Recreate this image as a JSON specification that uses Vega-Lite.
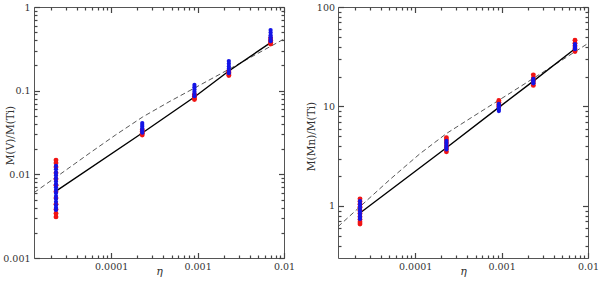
{
  "$schema": "https://vega.github.io/schema/vega-lite/v6.json",
  "padding": {"left": 2, "top": 1, "right": 0, "bottom": 0},
  "bounds": "flush",
  "spacing": 54,
  "config": {
    "view": {"stroke": "#555", "strokeWidth": 1},
    "axis": {
      "grid": false, "domain": false, "tickColor": "#444", "tickWidth": 1.2, "ticks": true,
      "labelFont": "DejaVu Serif", "labelFontSize": 9.5, "labelColor": "#333",
      "titleFont": "DejaVu Serif", "titleFontWeight": "normal", "titleColor": "#333", "titleFontSize": 10.5,
      "labelFlush": false, "labelOverlap": false, "labelBound": false
    }
  },
  "datasets": {
    "ptsV": [
      {"eta": 2.3e-5, "ratio": 0.0031, "set": "red"}, {"eta": 2.3e-5, "ratio": 0.0034, "set": "red"}, {"eta": 2.3e-5, "ratio": 0.0038, "set": "red"}, {"eta": 2.3e-5, "ratio": 0.0044, "set": "red"}, {"eta": 2.3e-5, "ratio": 0.0052, "set": "red"}, {"eta": 2.3e-5, "ratio": 0.0062, "set": "red"}, {"eta": 2.3e-5, "ratio": 0.0074, "set": "red"}, {"eta": 2.3e-5, "ratio": 0.0088, "set": "red"}, {"eta": 2.3e-5, "ratio": 0.0104, "set": "red"}, {"eta": 2.3e-5, "ratio": 0.0122, "set": "red"}, {"eta": 2.3e-5, "ratio": 0.0137, "set": "red"}, {"eta": 2.3e-5, "ratio": 0.0148, "set": "red"},
      {"eta": 2.29e-4, "ratio": 0.0295, "set": "red"}, {"eta": 2.29e-4, "ratio": 0.031, "set": "red"}, {"eta": 2.29e-4, "ratio": 0.0325, "set": "red"}, {"eta": 2.29e-4, "ratio": 0.034, "set": "red"},
      {"eta": 9.2e-4, "ratio": 0.0785, "set": "red"}, {"eta": 9.2e-4, "ratio": 0.082, "set": "red"}, {"eta": 9.2e-4, "ratio": 0.086, "set": "red"}, {"eta": 9.2e-4, "ratio": 0.09, "set": "red"},
      {"eta": 2.3e-3, "ratio": 0.152, "set": "red"}, {"eta": 2.3e-3, "ratio": 0.158, "set": "red"}, {"eta": 2.3e-3, "ratio": 0.165, "set": "red"}, {"eta": 2.3e-3, "ratio": 0.172, "set": "red"},
      {"eta": 7e-3, "ratio": 0.361, "set": "red"}, {"eta": 7e-3, "ratio": 0.38, "set": "red"}, {"eta": 7e-3, "ratio": 0.4, "set": "red"}, {"eta": 7e-3, "ratio": 0.425, "set": "red"},
      {"eta": 2.3e-5, "ratio": 0.00375, "set": "blue"}, {"eta": 2.3e-5, "ratio": 0.004, "set": "blue"}, {"eta": 2.3e-5, "ratio": 0.0043, "set": "blue"}, {"eta": 2.3e-5, "ratio": 0.0047, "set": "blue"}, {"eta": 2.3e-5, "ratio": 0.0051, "set": "blue"}, {"eta": 2.3e-5, "ratio": 0.0055, "set": "blue"}, {"eta": 2.3e-5, "ratio": 0.006, "set": "blue"}, {"eta": 2.3e-5, "ratio": 0.0065, "set": "blue"}, {"eta": 2.3e-5, "ratio": 0.007, "set": "blue"}, {"eta": 2.3e-5, "ratio": 0.0076, "set": "blue"}, {"eta": 2.3e-5, "ratio": 0.0082, "set": "blue"}, {"eta": 2.3e-5, "ratio": 0.0089, "set": "blue"}, {"eta": 2.3e-5, "ratio": 0.0097, "set": "blue"}, {"eta": 2.3e-5, "ratio": 0.0105, "set": "blue"}, {"eta": 2.3e-5, "ratio": 0.0115, "set": "blue"}, {"eta": 2.3e-5, "ratio": 0.0126, "set": "blue"},
      {"eta": 2.29e-4, "ratio": 0.0315, "set": "blue"}, {"eta": 2.29e-4, "ratio": 0.0332, "set": "blue"}, {"eta": 2.29e-4, "ratio": 0.035, "set": "blue"}, {"eta": 2.29e-4, "ratio": 0.037, "set": "blue"}, {"eta": 2.29e-4, "ratio": 0.039, "set": "blue"}, {"eta": 2.29e-4, "ratio": 0.041, "set": "blue"},
      {"eta": 9.2e-4, "ratio": 0.086, "set": "blue"}, {"eta": 9.2e-4, "ratio": 0.091, "set": "blue"}, {"eta": 9.2e-4, "ratio": 0.097, "set": "blue"}, {"eta": 9.2e-4, "ratio": 0.103, "set": "blue"}, {"eta": 9.2e-4, "ratio": 0.11, "set": "blue"}, {"eta": 9.2e-4, "ratio": 0.117, "set": "blue"},
      {"eta": 2.3e-3, "ratio": 0.162, "set": "blue"}, {"eta": 2.3e-3, "ratio": 0.172, "set": "blue"}, {"eta": 2.3e-3, "ratio": 0.183, "set": "blue"}, {"eta": 2.3e-3, "ratio": 0.195, "set": "blue"}, {"eta": 2.3e-3, "ratio": 0.21, "set": "blue"}, {"eta": 2.3e-3, "ratio": 0.226, "set": "blue"},
      {"eta": 7e-3, "ratio": 0.39, "set": "blue"}, {"eta": 7e-3, "ratio": 0.41, "set": "blue"}, {"eta": 7e-3, "ratio": 0.435, "set": "blue"}, {"eta": 7e-3, "ratio": 0.46, "set": "blue"}, {"eta": 7e-3, "ratio": 0.495, "set": "blue"}, {"eta": 7e-3, "ratio": 0.53, "set": "blue"}
    ],
    "ptsMn": [
      {"eta": 2.3e-5, "ratio": 0.66, "set": "red"}, {"eta": 2.3e-5, "ratio": 0.69, "set": "red"}, {"eta": 2.3e-5, "ratio": 0.73, "set": "red"}, {"eta": 2.3e-5, "ratio": 0.78, "set": "red"}, {"eta": 2.3e-5, "ratio": 0.84, "set": "red"}, {"eta": 2.3e-5, "ratio": 0.9, "set": "red"}, {"eta": 2.3e-5, "ratio": 0.97, "set": "red"}, {"eta": 2.3e-5, "ratio": 1.04, "set": "red"}, {"eta": 2.3e-5, "ratio": 1.11, "set": "red"}, {"eta": 2.3e-5, "ratio": 1.18, "set": "red"},
      {"eta": 2.3e-4, "ratio": 3.5, "set": "red"}, {"eta": 2.3e-4, "ratio": 3.75, "set": "red"}, {"eta": 2.3e-4, "ratio": 4.0, "set": "red"}, {"eta": 2.3e-4, "ratio": 4.3, "set": "red"}, {"eta": 2.3e-4, "ratio": 4.6, "set": "red"}, {"eta": 2.3e-4, "ratio": 4.85, "set": "red"},
      {"eta": 9.3e-4, "ratio": 10.0, "set": "red"}, {"eta": 9.3e-4, "ratio": 10.5, "set": "red"}, {"eta": 9.3e-4, "ratio": 11.0, "set": "red"}, {"eta": 9.3e-4, "ratio": 11.5, "set": "red"},
      {"eta": 2.33e-3, "ratio": 16.3, "set": "red"}, {"eta": 2.33e-3, "ratio": 17.2, "set": "red"}, {"eta": 2.33e-3, "ratio": 18.2, "set": "red"}, {"eta": 2.33e-3, "ratio": 19.3, "set": "red"}, {"eta": 2.33e-3, "ratio": 20.8, "set": "red"},
      {"eta": 7.07e-3, "ratio": 35.7, "set": "red"}, {"eta": 7.07e-3, "ratio": 38.0, "set": "red"}, {"eta": 7.07e-3, "ratio": 40.5, "set": "red"}, {"eta": 7.07e-3, "ratio": 43.3, "set": "red"}, {"eta": 7.07e-3, "ratio": 46.4, "set": "red"},
      {"eta": 2.3e-5, "ratio": 0.74, "set": "blue"}, {"eta": 2.3e-5, "ratio": 0.78, "set": "blue"}, {"eta": 2.3e-5, "ratio": 0.83, "set": "blue"}, {"eta": 2.3e-5, "ratio": 0.88, "set": "blue"}, {"eta": 2.3e-5, "ratio": 0.93, "set": "blue"}, {"eta": 2.3e-5, "ratio": 0.99, "set": "blue"}, {"eta": 2.3e-5, "ratio": 1.05, "set": "blue"}, {"eta": 2.3e-5, "ratio": 1.12, "set": "blue"},
      {"eta": 2.3e-4, "ratio": 3.7, "set": "blue"}, {"eta": 2.3e-4, "ratio": 3.9, "set": "blue"}, {"eta": 2.3e-4, "ratio": 4.1, "set": "blue"}, {"eta": 2.3e-4, "ratio": 4.3, "set": "blue"}, {"eta": 2.3e-4, "ratio": 4.5, "set": "blue"},
      {"eta": 9.3e-4, "ratio": 9.0, "set": "blue"}, {"eta": 9.3e-4, "ratio": 9.4, "set": "blue"}, {"eta": 9.3e-4, "ratio": 9.8, "set": "blue"}, {"eta": 9.3e-4, "ratio": 10.2, "set": "blue"}, {"eta": 9.3e-4, "ratio": 10.6, "set": "blue"},
      {"eta": 2.33e-3, "ratio": 17.1, "set": "blue"}, {"eta": 2.33e-3, "ratio": 17.7, "set": "blue"}, {"eta": 2.33e-3, "ratio": 18.3, "set": "blue"}, {"eta": 2.33e-3, "ratio": 19.0, "set": "blue"},
      {"eta": 7.07e-3, "ratio": 37.7, "set": "blue"}, {"eta": 7.07e-3, "ratio": 39.2, "set": "blue"}, {"eta": 7.07e-3, "ratio": 40.8, "set": "blue"}, {"eta": 7.07e-3, "ratio": 42.4, "set": "blue"}
    ],
    "solidV": [
      {"eta": 2.3e-5, "ratio": 0.0063}, {"eta": 2.29e-4, "ratio": 0.0312}, {"eta": 9.2e-4, "ratio": 0.084}, {"eta": 2.3e-3, "ratio": 0.172}, {"eta": 7e-3, "ratio": 0.375}
    ],
    "solidMn": [
      {"eta": 2.3e-5, "ratio": 0.85}, {"eta": 2.3e-4, "ratio": 3.85}, {"eta": 9.3e-4, "ratio": 9.8}, {"eta": 2.33e-3, "ratio": 18.0}, {"eta": 7.07e-3, "ratio": 38.0}
    ],
    "dashV": [
      {"eta": 1.28e-5, "ratio": 0.00604}, {"eta": 2.59e-5, "ratio": 0.01009}, {"eta": 5.77e-5, "ratio": 0.01824}, {"eta": 1.122e-4, "ratio": 0.0295}, {"eta": 2.307e-4, "ratio": 0.0484}, {"eta": 4.86e-4, "ratio": 0.0752}, {"eta": 9.22e-4, "ratio": 0.1076}, {"eta": 2.28e-3, "ratio": 0.179}, {"eta": 0.01, "ratio": 0.4146}
    ],
    "dashMn": [
      {"eta": 1.28e-5, "ratio": 0.619}, {"eta": 2.3e-5, "ratio": 0.984}, {"eta": 5.12e-5, "ratio": 1.849}, {"eta": 1.138e-4, "ratio": 3.357}, {"eta": 2.317e-4, "ratio": 5.37}, {"eta": 4.315e-4, "ratio": 7.58}, {"eta": 9.33e-4, "ratio": 11.58}, {"eta": 2.328e-3, "ratio": 19.18}, {"eta": 7.08e-3, "ratio": 35.5}, {"eta": 0.01, "ratio": 43.1}
    ]
  },
  "hconcat": [
    {
      "width": 250, "height": 251,
      "resolve": {"axis": {"x": "independent", "y": "independent"}},
      "layer": [
        {
          "data": {"name": "dashV"},
          "mark": {"type": "line", "stroke": "#444", "strokeWidth": 0.9, "strokeDash": [5, 3], "clip": true},
          "encoding": {
            "x": {"field": "eta", "type": "quantitative", "scale": {"type": "log", "domain": [1.28e-5, 0.01], "nice": false},
              "axis": {"orient": "bottom", "offset": -5.5, "values": [0.0001, 0.001, 0.01], "tickSize": 5.5, "labelPadding": 3.5, "labelExpr": "format(datum.value, '~g')", "title": "η", "titleFontStyle": "italic", "titleFontSize": 11, "titleY": 22, "titleBaseline": "alphabetic"}},
            "y": {"field": "ratio", "type": "quantitative", "scale": {"type": "log", "domain": [0.001, 1], "nice": false},
              "axis": {"orient": "left", "offset": -5.5, "values": [0.001, 0.01, 0.1, 1], "tickSize": 5.5, "labelPadding": 4, "labelExpr": "format(datum.value, '~g')", "title": "M(V)/M(Ti)", "titleX": -26, "titleY": 128, "titleAngle": -90, "titleBaseline": "alphabetic", "titleAlign": "center"}}
          }
        },
        {
          "data": {"name": "solidV"},
          "mark": {"type": "line", "stroke": "#000", "strokeWidth": 1.4},
          "encoding": {
            "x": {"field": "eta", "type": "quantitative", "scale": {"type": "log", "domain": [1.28e-5, 0.01], "nice": false},
              "axis": {"orient": "bottom", "offset": -3, "values": [2e-5, 3e-5, 4e-5, 5e-5, 6e-5, 7e-5, 8e-5, 9e-5, 0.0002, 0.0003, 0.0004, 0.0005, 0.0006, 0.0007, 0.0008, 0.0009, 0.002, 0.003, 0.004, 0.005, 0.006, 0.007, 0.008, 0.009], "tickSize": 3, "labels": false, "title": null}},
            "y": {"field": "ratio", "type": "quantitative", "scale": {"type": "log", "domain": [0.001, 1], "nice": false},
              "axis": {"orient": "left", "offset": -3, "values": [0.002, 0.003, 0.004, 0.005, 0.006, 0.007, 0.008, 0.009, 0.02, 0.03, 0.04, 0.05, 0.06, 0.07, 0.08, 0.09, 0.2, 0.3, 0.4, 0.5, 0.6, 0.7, 0.8, 0.9], "tickSize": 3, "labels": false, "title": null}}
          }
        },
        {
          "data": {"name": "ptsV"},
          "transform": [{"filter": "datum.set === 'red'"}],
          "mark": {"type": "circle", "color": "#f01414", "size": 24, "opacity": 1},
          "encoding": {
            "x": {"field": "eta", "type": "quantitative", "scale": {"type": "log", "domain": [1.28e-5, 0.01], "nice": false},
              "axis": {"orient": "top", "offset": -5.5, "values": [0.0001, 0.001, 0.01], "tickSize": 5.5, "labels": false, "title": null}},
            "y": {"field": "ratio", "type": "quantitative", "scale": {"type": "log", "domain": [0.001, 1], "nice": false},
              "axis": {"orient": "right", "offset": -5.5, "values": [0.001, 0.01, 0.1, 1], "tickSize": 5.5, "labels": false, "title": null}}
          }
        },
        {
          "data": {"name": "ptsV"},
          "transform": [{"filter": "datum.set === 'blue'"}],
          "mark": {"type": "circle", "color": "#1414e6", "size": 18, "opacity": 1},
          "encoding": {
            "x": {"field": "eta", "type": "quantitative", "scale": {"type": "log", "domain": [1.28e-5, 0.01], "nice": false},
              "axis": {"orient": "top", "offset": -3, "values": [2e-5, 3e-5, 4e-5, 5e-5, 6e-5, 7e-5, 8e-5, 9e-5, 0.0002, 0.0003, 0.0004, 0.0005, 0.0006, 0.0007, 0.0008, 0.0009, 0.002, 0.003, 0.004, 0.005, 0.006, 0.007, 0.008, 0.009], "tickSize": 3, "labels": false, "title": null}},
            "y": {"field": "ratio", "type": "quantitative", "scale": {"type": "log", "domain": [0.001, 1], "nice": false},
              "axis": {"orient": "right", "offset": -3, "values": [0.002, 0.003, 0.004, 0.005, 0.006, 0.007, 0.008, 0.009, 0.02, 0.03, 0.04, 0.05, 0.06, 0.07, 0.08, 0.09, 0.2, 0.3, 0.4, 0.5, 0.6, 0.7, 0.8, 0.9], "tickSize": 3, "labels": false, "title": null}}
          }
        }
      ]
    },
    {
      "width": 250, "height": 251,
      "resolve": {"axis": {"x": "independent", "y": "independent"}},
      "layer": [
        {
          "data": {"name": "dashMn"},
          "mark": {"type": "line", "stroke": "#444", "strokeWidth": 0.9, "strokeDash": [5, 3], "clip": true},
          "encoding": {
            "x": {"field": "eta", "type": "quantitative", "scale": {"type": "log", "domain": [1.28e-5, 0.01], "nice": false},
              "axis": {"orient": "bottom", "offset": -5.5, "values": [0.0001, 0.001, 0.01], "tickSize": 5.5, "labelPadding": 3.5, "labelExpr": "format(datum.value, '~g')", "title": "η", "titleFontStyle": "italic", "titleFontSize": 11, "titleY": 22, "titleBaseline": "alphabetic"}},
            "y": {"field": "ratio", "type": "quantitative", "scale": {"type": "log", "domain": [0.3, 100], "nice": false},
              "axis": {"orient": "left", "offset": -5.5, "values": [1, 10, 100], "tickSize": 5.5, "labelPadding": 3.5, "labelExpr": "format(datum.value, '~g')", "title": "M(Mn)/M(Ti)", "titleX": -29, "titleY": 129, "titleAngle": -90, "titleBaseline": "alphabetic", "titleAlign": "center"}}
          }
        },
        {
          "data": {"name": "solidMn"},
          "mark": {"type": "line", "stroke": "#000", "strokeWidth": 1.4},
          "encoding": {
            "x": {"field": "eta", "type": "quantitative", "scale": {"type": "log", "domain": [1.28e-5, 0.01], "nice": false},
              "axis": {"orient": "bottom", "offset": -3, "values": [2e-5, 3e-5, 4e-5, 5e-5, 6e-5, 7e-5, 8e-5, 9e-5, 0.0002, 0.0003, 0.0004, 0.0005, 0.0006, 0.0007, 0.0008, 0.0009, 0.002, 0.003, 0.004, 0.005, 0.006, 0.007, 0.008, 0.009], "tickSize": 3, "labels": false, "title": null}},
            "y": {"field": "ratio", "type": "quantitative", "scale": {"type": "log", "domain": [0.3, 100], "nice": false},
              "axis": {"orient": "left", "offset": -3, "values": [0.4, 0.5, 0.6, 0.7, 0.8, 0.9, 2, 3, 4, 5, 6, 7, 8, 9, 20, 30, 40, 50, 60, 70, 80, 90], "tickSize": 3, "labels": false, "title": null}}
          }
        },
        {
          "data": {"name": "ptsMn"},
          "transform": [{"filter": "datum.set === 'red'"}],
          "mark": {"type": "circle", "color": "#f01414", "size": 24, "opacity": 1},
          "encoding": {
            "x": {"field": "eta", "type": "quantitative", "scale": {"type": "log", "domain": [1.28e-5, 0.01], "nice": false},
              "axis": {"orient": "top", "offset": -5.5, "values": [0.0001, 0.001, 0.01], "tickSize": 5.5, "labels": false, "title": null}},
            "y": {"field": "ratio", "type": "quantitative", "scale": {"type": "log", "domain": [0.3, 100], "nice": false},
              "axis": {"orient": "right", "offset": -5.5, "values": [1, 10, 100], "tickSize": 5.5, "labels": false, "title": null}}
          }
        },
        {
          "data": {"name": "ptsMn"},
          "transform": [{"filter": "datum.set === 'blue'"}],
          "mark": {"type": "circle", "color": "#1414e6", "size": 18, "opacity": 1},
          "encoding": {
            "x": {"field": "eta", "type": "quantitative", "scale": {"type": "log", "domain": [1.28e-5, 0.01], "nice": false},
              "axis": {"orient": "top", "offset": -3, "values": [2e-5, 3e-5, 4e-5, 5e-5, 6e-5, 7e-5, 8e-5, 9e-5, 0.0002, 0.0003, 0.0004, 0.0005, 0.0006, 0.0007, 0.0008, 0.0009, 0.002, 0.003, 0.004, 0.005, 0.006, 0.007, 0.008, 0.009], "tickSize": 3, "labels": false, "title": null}},
            "y": {"field": "ratio", "type": "quantitative", "scale": {"type": "log", "domain": [0.3, 100], "nice": false},
              "axis": {"orient": "right", "offset": -3, "values": [0.4, 0.5, 0.6, 0.7, 0.8, 0.9, 2, 3, 4, 5, 6, 7, 8, 9, 20, 30, 40, 50, 60, 70, 80, 90], "tickSize": 3, "labels": false, "title": null}}
          }
        }
      ]
    }
  ]
}
